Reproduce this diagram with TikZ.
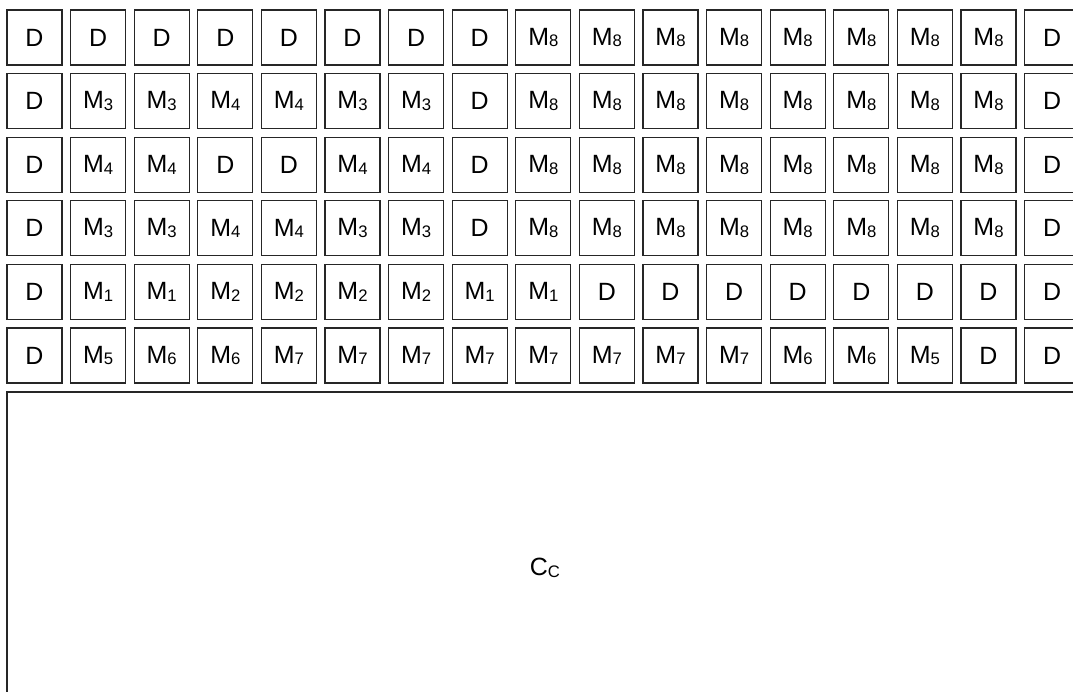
\documentclass[tikz,border=0pt]{standalone}
\usepackage{fontspec}
\setmainfont{Liberation Sans}
\usetikzlibrary{positioning}
\tikzset{
	% one square of the grid
	cell/.style={draw=black!85, line width=0.7pt, minimum width=1.1cm, minimum height=1.1cm, inner sep=0pt, text centered, font=\fontsize{14.2}{16}\selectfont},
	corebox/.style={draw=black!85, line width=0.7pt, minimum width=21.52cm, minimum height=7.04cm, inner sep=0pt, text centered, font=\fontsize{14.2}{16}\selectfont},
}
\newcommand{\subtx}[1]{\raisebox{-1pt}{\fontsize{9.5}{10}\selectfont #1}}
\newcommand{\Mx}[1]{M\subtx{#1}}

\begin{document}
\begin{tikzpicture}[x=0.02cm, y=-0.02cm]
	\useasboundingbox (0,0) rectangle (1073,692);
	\clip (0,0) rectangle (1073,692);
	\foreach \row [count=\r from 0] in {
		{D,D,D,D,D,D,D,D,\Mx8,\Mx8,\Mx8,\Mx8,\Mx8,\Mx8,\Mx8,\Mx8,D},
		{D,\Mx3,\Mx3,\Mx4,\Mx4,\Mx3,\Mx3,D,\Mx8,\Mx8,\Mx8,\Mx8,\Mx8,\Mx8,\Mx8,\Mx8,D},
		{D,\Mx4,\Mx4,D,D,\Mx4,\Mx4,D,\Mx8,\Mx8,\Mx8,\Mx8,\Mx8,\Mx8,\Mx8,\Mx8,D},
		{D,\Mx3,\Mx3,\Mx4,\Mx4,\Mx3,\Mx3,D,\Mx8,\Mx8,\Mx8,\Mx8,\Mx8,\Mx8,\Mx8,\Mx8,D},
		{D,\Mx1,\Mx1,\Mx2,\Mx2,\Mx2,\Mx2,\Mx1,\Mx1,D,D,D,D,D,D,D,D},
		{D,\Mx5,\Mx6,\Mx6,\Mx7,\Mx7,\Mx7,\Mx7,\Mx7,\Mx7,\Mx7,\Mx7,\Mx6,\Mx6,\Mx5,D,D}} {
		\foreach \lab [count=\c from 0] in \row {
			\node[cell] (c-\r-\c) at (34.5+\c*63.6, 37.5+\r*63.6) {\lab};
		}
	}
	\node[corebox] (core) at (545,568) {C\subtx{C}};
\end{tikzpicture}
\end{document}
